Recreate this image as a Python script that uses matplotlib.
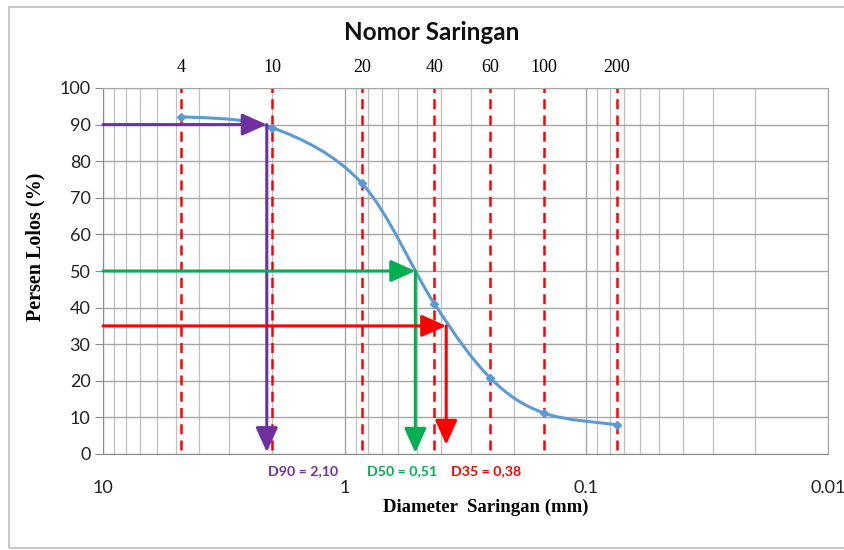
import numpy as np
import matplotlib.pyplot as plt
from matplotlib.path import Path
from matplotlib.patches import PathPatch, Rectangle

# sieve data
sieve_no = ["4", "10", "20", "40", "60", "100", "200"]
diameter = [4.75, 2.0, 0.85, 0.425, 0.25, 0.15, 0.075]
passing = [92.2, 89.2, 74.0, 41.0, 20.8, 11.2, 8.0]

# characteristic diameters
d_labels = ["D90 = 2,10", "D50 = 0,51", "D35 = 0,38"]
d_percent = [90, 50, 35]
d_size = [2.10, 0.51, 0.38]
d_colors = ["#7030A0", "#00B050", "#FF0000"]
d_arrow_end = [0.5, 0.3, 2.5]

x_ticks = [10, 1, 0.1, 0.01]
x_ticklabels = ["10", "1", "0.1", "0.01"]

fig = plt.figure(figsize=(8.45, 5.5), dpi=100)
ax = fig.add_axes([103 / 845, 96 / 550, 725 / 845, 366 / 550])

ax.set_xscale("log")
ax.set_xlim(10, 0.01)
ax.set_ylim(0, 100)

# grid
ax.set_yticks(range(0, 101, 10))
ax.set_xticks(x_ticks)
ax.set_xticklabels(x_ticklabels)
ax.grid(True, which="major", color="#A6A6A6", linewidth=1.0)
ax.grid(True, which="minor", axis="x", color="#BFBFBF", linewidth=0.9)
ax.set_axisbelow(True)
for s in ax.spines.values():
    s.set_color("#A6A6A6")
ax.spines["left"].set_color("#8C8C8C")
ax.spines["bottom"].set_color("#8C8C8C")
ax.tick_params(axis="y", length=6, color="#8C8C8C", labelsize=13, pad=3)
ax.tick_params(axis="x", which="major", length=0, labelsize=13, pad=19)
ax.tick_params(axis="x", which="minor", length=0)
for lbl in ax.get_xticklabels() + ax.get_yticklabels():
    lbl.set_family("Lato")
    lbl.set_color("#222222")

# sieve lines
ax.vlines(diameter, 1, 100, colors="#FF0000", linestyles=(0, (4, 2.5)), linewidth=1.8, zorder=2)

# smoothed curve (Excel-like bezier through points)
u = np.log10(diameter)
p = np.array(passing)
n = len(u)
verts = [(diameter[0], p[0])]
codes = [Path.MOVETO]
for i in range(n - 1):
    u0, p0 = (u[i - 1], p[i - 1]) if i > 0 else (u[i], p[i])
    u3, p3 = (u[i + 2], p[i + 2]) if i + 2 < n else (u[i + 1], p[i + 1])
    c1 = (u[i] + (u[i + 1] - u0) / 6, p[i] + (p[i + 1] - p0) / 6)
    c2 = (u[i + 1] - (u3 - u[i]) / 6, p[i + 1] - (p3 - p[i]) / 6)
    verts += [(10 ** c1[0], c1[1]), (10 ** c2[0], c2[1]), (diameter[i + 1], p[i + 1])]
    codes += [Path.CURVE4] * 3
ax.add_patch(PathPatch(Path(verts, codes), facecolor="none", edgecolor="#5B9BD5", linewidth=2.2, zorder=4))
ax.plot(diameter, passing, linestyle="none", marker="D", markersize=4.5, color="#5B9BD5", zorder=5)

# D-value arrows
for pct, d, c, yend in zip(d_percent, d_size, d_colors, d_arrow_end):
    aprops = dict(arrowstyle="-|>,head_length=1.0,head_width=0.45", color=c, lw=2.2,
                  mutation_scale=15, shrinkA=0, shrinkB=0)
    ax.annotate("", xy=(d, pct), xytext=(10, pct), arrowprops=aprops, zorder=6)
    ax.annotate("", xy=(d, yend), xytext=(d, pct), arrowprops=aprops, zorder=6)

label_x = [303, 402, 486]
for lbl, c, xp in zip(d_labels, d_colors, label_x):
    fig.text(xp / 845, 1 - 471 / 550, lbl, color=c, fontsize=10.2, fontweight="bold",
             family="Lato", ha="center", va="center")

# sieve numbers on top
for no, d in zip(sieve_no, diameter):
    ax.text(d, 103.2, no, fontsize=13, family="Liberation Serif", ha="center", va="bottom",
            transform=ax.transData, clip_on=False)

fig.text(432 / 845, 1 - 33 / 550, "Nomor Saringan", fontsize=17.5, fontweight="bold",
         family="Lato", ha="center", va="center", color="#111111")
fig.text(486 / 845, 1 - 507 / 550, "Diameter  Saringan (mm)", fontsize=13.5, fontweight="bold",
         family="Liberation Serif", ha="center", va="center")
fig.text(35 / 845, 1 - 247 / 550, "Persen Lolos (%)", fontsize=14.5, fontweight="bold",
         family="Liberation Serif", ha="center", va="center", rotation=90)

# outer chart border
fig.patches.append(Rectangle((9 / 845, 2 / 550), 845, 541 / 550, transform=fig.transFigure,
                             fill=False, edgecolor="#BFBFBF", linewidth=1.2))

fig.savefig("out.png", dpi=100)
